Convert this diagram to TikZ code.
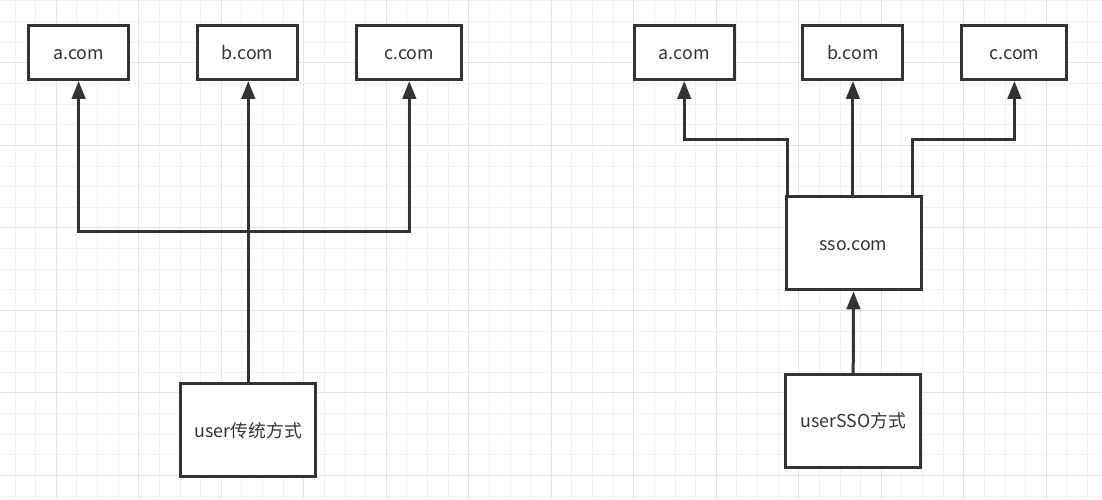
\documentclass[tikz,border=0pt]{standalone}
\usepackage{fontspec}
\setmainfont{Noto Sans CJK SC}
\usetikzlibrary{arrows.meta}
\definecolor{ink}{HTML}{333333}
\definecolor{gridminor}{HTML}{F1F1F1}
\definecolor{gridmajor}{HTML}{E4E4E4}
\tikzset{
  box/.style={draw=ink, line width=3pt, fill=white, text=ink, inner sep=0pt,
    text height=15pt, text depth=1.5pt,
    font=\fontsize{17.8}{21}\selectfont},
  smallbox/.style={box, minimum width=100pt, minimum height=54pt},
  wideside/.style={box, minimum width=105pt, minimum height=54pt},
  bigbox/.style={box, minimum width=135pt, minimum height=93pt},
  arr/.style={draw=ink, line width=3pt, -{Triangle[length=18pt,width=13.5pt]}},
  link/.style={draw=ink, line width=3pt},
}
\begin{document}
\begin{tikzpicture}[x=1pt,y=-1pt]
\useasboundingbox (0,0) rectangle (1102,500);
\fill[white] (0,0) rectangle (1102,500);
% grid
\foreach \k in {0,...,53} {
  \pgfmathsetmacro{\xx}{15.1+20.625*\k}
  \pgfmathtruncatemacro{\m}{mod(\k,4)}
  \ifnum\m=2
    \draw[gridmajor, line width=1.2pt] (\xx,0) -- (\xx,500);
  \else
    \draw[gridminor, line width=1pt] (\xx,0) -- (\xx,500);
  \fi
}
\foreach \k in {0,...,24} {
  \pgfmathsetmacro{\yy}{1+20.625*\k}
  \pgfmathtruncatemacro{\m}{mod(\k,4)}
  \ifnum\m=3
    \draw[gridmajor, line width=1.2pt] (0,\yy) -- (1102,\yy);
  \else
    \draw[gridminor, line width=1pt] (0,\yy) -- (1102,\yy);
  \fi
}
% left diagram
\node[smallbox] (la) at (78.6,52.5) {a.com};
\node[smallbox] (lb) at (247.7,52.5) {b.com};
\node[wideside] (lc) at (409.3,52.5) {c.com};
\node[bigbox] (lu) at (248.3,430.3) {user传统方式};
\coordinate (lj) at (248.3,231.7);
\draw[link] (lu.north) -- (lj);
\draw[arr] (lj) -| (la.south);
\draw[arr] (lj) -| (lc.south);
\draw[arr] (lj) -- (lj |- lb.south);
% right diagram
\node[smallbox] (ra) at (684.2,52.5) {a.com};
\node[smallbox] (rb) at (852.9,52.5) {b.com};
\node[wideside] (rc) at (1014.4,52.5) {c.com};
\node[bigbox] (sso) at (853.5,243.3) {sso.com};
\node[bigbox] (ru) at (853.2,421) {userSSO方式};
\coordinate (rj1) at (787.3,139);
\coordinate (rj2) at (912.7,139);
\draw[arr] (sso.north west -| rj1) -- (rj1) -| (ra.south);
\draw[arr] (sso.north west -| rj2) -- (rj2) -| (rc.south);
\draw[arr] (sso.north -| rb.south) -- (rb.south);
\draw[arr] (ru.north) -- (sso.south);
\end{tikzpicture}
\end{document}
